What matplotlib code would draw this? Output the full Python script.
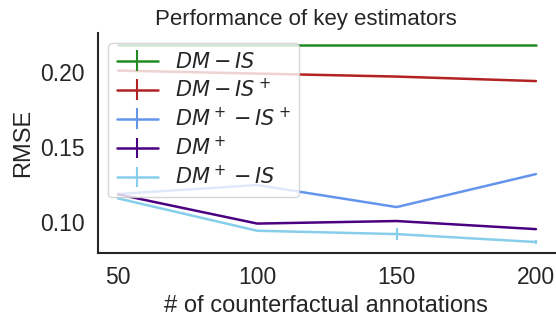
import numpy as np
import matplotlib
matplotlib.use("Agg")
import matplotlib.pyplot as plt
import seaborn as sns

sns.set_theme(style="white")
plt.rcParams["font.family"] = ["Liberation Sans", "DejaVu Sans"]
plt.rcParams["mathtext.fontset"] = "dejavusans"

# ===============================
# Data
# ===============================
n_annot = [50, 100, 150, 200]
labels = [r"$DM - IS$", r"$DM - IS^+$", r"$DM^+ - IS^+$", r"$DM^+$", r"$DM^+ - IS$"]
colors = ["forestgreen", "firebrick", "cornflowerblue", "indigo", "skyblue"]

dm_is = [0.218, 0.218, 0.218, 0.218]
dm_isp = [0.201, 0.199, 0.197, 0.194]
dmp_isp = [0.1187, 0.1247, 0.110, 0.132]
dmp = [0.1185, 0.099, 0.1007, 0.0953]
dmp_is = [0.1158, 0.0942, 0.092, 0.0867]

err_dm_is = [0.0, 0.0, 0.0, 0.0]
err_dm_isp = [0.0, 0.0, 0.0, 0.0]
err_dmp_isp = [0.0, 0.0, 0.0, 0.0]
err_dmp = [0.0, 0.0, 0.0, 0.0]
err_dmp_is = [0.0, 0.0, 0.004, 0.0015]

series = [dm_is, dm_isp, dmp_isp, dmp, dmp_is]
errors = [err_dm_is, err_dm_isp, err_dmp_isp, err_dmp, err_dmp_is]

# ===============================
# Plot
# ===============================
fig = plt.figure(figsize=(5.56, 3.18), dpi=100)
ax = fig.add_axes([0.176, 0.204, 0.822, 0.692])
for ys, es, lab, c in zip(series, errors, labels, colors):
    ax.errorbar(n_annot, ys, yerr=es, label=lab, color=c, lw=1.8, elinewidth=1.5)

ax.set_xlim(42.8, 206.8)
ax.set_ylim(0.0793, 0.226)
ax.set_xticks(n_annot)
ax.set_yticks([0.10, 0.15, 0.20])
ax.set_yticklabels(["0.10", "0.15", "0.20"])
ax.tick_params(labelsize=16.5)
ax.set_xlabel("# of counterfactual annotations", fontsize=17)
ax.set_ylabel("RMSE", fontsize=17)
ax.set_title("Performance of key estimators", fontsize=16, x=0.456)
sns.despine()
for sp in ["left", "bottom"]:
    ax.spines[sp].set_color("#262626")
    ax.spines[sp].set_linewidth(1.5)
ax.legend(loc="upper left", fontsize=15, handlelength=2.0, labelspacing=0.28)

plt.savefig("out.png", dpi=100)
plt.close()
